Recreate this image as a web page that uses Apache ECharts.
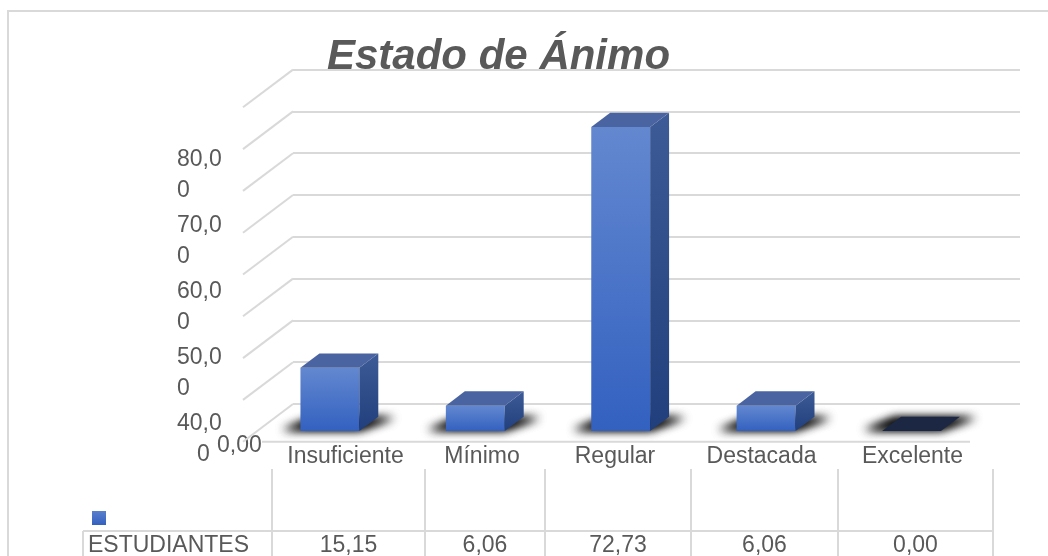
<!doctype html>
<html>
<head>
<meta charset="utf-8">
<title>Estado de Ánimo</title>
<script src="https://cdn.jsdelivr.net/npm/echarts@6/dist/echarts.min.js"></script>
<style>
    html, body { margin: 0; padding: 0; background: #fff; }
    #main { width: 1048px; height: 556px; }
</style>
</head>
<body>
<div id="main"></div>
<script>
// datos
var categorias = ['Insuficiente', 'Mínimo', 'Regular', 'Destacada', 'Excelente'];
var estudiantes = [15.15, 6.06, 72.73, 6.06, 0.00];
var serieNombre = 'ESTUDIANTES';
var lineasValor = [0, 10, 20, 30, 40, 50, 60, 70, 80];
// etiquetas del eje vertical tal como aparecen (partidas en dos renglones)
var etiquetasEje = [['80,0', '0'], ['70,0', '0'], ['60,0', '0'], ['50,0', '0'], ['40,0', '0']];
var etiquetaCero = '0,00';

// perspectiva del piso
var DX = 50, DY = 37.7;
var D_FRENTE = 0.716, D_FONDO = 0.337;
var gris = '#595959', linea = '#d9d9d9';
var fuente = '"Liberation Sans", Arial, sans-serif';
var columnas = [272, 425, 545, 691, 838, 993];

function fmt(v) { return v.toFixed(2).replace('.', ','); }

var myChart = echarts.init(document.getElementById('main'));

function texto(t, x, y, align) {
    return { type: 'text', silent: true,
        style: { text: t, x: x, y: y, fill: gris, font: '23px ' + fuente, align: align || 'left', verticalAlign: 'middle' } };
}

var graficos = [];
// marco del grafico
graficos.push({ type: 'rect', silent: true, z: -10,
    shape: { x: 8, y: 11, width: 1100, height: 600 },
    style: { fill: null, stroke: linea, lineWidth: 2 } });

// etiquetas del eje Y
etiquetasEje.forEach(function (par, k) {
    var y1 = 160 + 66 * k;
    graficos.push(texto(par[0], 177, y1));
    graficos.push(texto(par[1], k === etiquetasEje.length - 1 ? 197 : 177, y1 + 31));
});
graficos.push(texto(etiquetaCero, 217, 446));

// tabla de datos
columnas.forEach(function (x) {
    graficos.push({ type: 'line', silent: true, shape: { x1: x, y1: 469, x2: x, y2: 560 }, style: { stroke: linea, lineWidth: 2 } });
});
graficos.push({ type: 'line', silent: true, shape: { x1: 83, y1: 531, x2: columnas[columnas.length - 1], y2: 531 }, style: { stroke: linea, lineWidth: 2 } });
graficos.push({ type: 'line', silent: true, shape: { x1: 83, y1: 531, x2: 83, y2: 560 }, style: { stroke: linea, lineWidth: 2 } });
graficos.push({ type: 'rect', silent: true, shape: { x: 92, y: 511, width: 14, height: 14 },
    style: { fill: new echarts.graphic.LinearGradient(0, 0, 0, 1, [{ offset: 0, color: '#5a80cc' }, { offset: 1, color: '#3461c0' }]) } });
graficos.push(texto(serieNombre, 88, 546));
categorias.forEach(function (c, i) {
    var cx = (columnas[i] + columnas[i + 1]) / 2;
    graficos.push(texto(c, cx - 3, 457, 'center'));
    graficos.push(texto(fmt(estudiantes[i]), cx, 546, 'center'));
});

function renderParedes(params, api) {
    var cs = params.coordSys;
    var v = api.value(1);
    var y = api.coord([0, v])[1];
    var hijos = [{ type: 'line', shape: { x1: cs.x, y1: y, x2: cs.x - DX, y2: y + DY }, style: { stroke: linea, lineWidth: 2 } }];
    if (v === 0) {
        // borde delantero del piso (empieza despues de la etiqueta 0,00)
        hijos.push({ type: 'line', shape: { x1: cs.x - DX + 19, y1: y + DY, x2: cs.x + cs.width - DX, y2: y + DY }, style: { stroke: linea, lineWidth: 2 } });
    }
    return { type: 'group', children: hijos };
}

function renderBarra(params, api) {
    var i = api.value(0), v = api.value(1);
    var base = api.coord([i, 0]), tope = api.coord([i, v]);
    var w = api.size([1, 0])[0] * 0.405;
    var xl = base[0] - w / 2, xr = base[0] + w / 2;
    function p(x, y, d) { return [x - DX * d, y + DY * d]; }
    var fLT = p(xl, tope[1], D_FRENTE), fRT = p(xr, tope[1], D_FRENTE);
    var fRB = p(xr, base[1], D_FRENTE), fLB = p(xl, base[1], D_FRENTE);
    var bLT = p(xl, tope[1], D_FONDO), bRT = p(xr, tope[1], D_FONDO);
    var bRB = p(xr, base[1], D_FONDO), bLB = p(xl, base[1], D_FONDO);
    var off = 3000;
    var sombra = [[fLB[0] - 18 - off, fLB[1] - 1], [fRB[0] - off, fRB[1] - 1], [bRB[0] + 16 - off, bRB[1] + 1], [bLB[0] - 6 - off, bLB[1] + 1]];
    var hijos = [];
    for (var s = 0; s < 2; s++) {
        hijos.push({
            type: 'polygon', shape: { points: sombra },
            style: { fill: '#000', shadowBlur: 10, shadowColor: 'rgba(0,0,0,0.9)', shadowOffsetX: off }
        });
    }
    if (v > 0) {
        hijos.push({
            type: 'polygon', shape: { points: [fLT, fRT, fRB, fLB] },
            style: { fill: new echarts.graphic.LinearGradient(0, 0, 0, 1, [{ offset: 0, color: '#6388d0' }, { offset: 1, color: '#3361c0' }]) }
        });
        hijos.push({
            type: 'polygon', shape: { points: [fRT, bRT, bRB, fRB] },
            style: { fill: new echarts.graphic.LinearGradient(0, 0, 0, 1, [{ offset: 0, color: '#3d5b96' }, { offset: 1, color: '#213f7c' }]) }
        });
    }
    hijos.push({
        type: 'polygon', shape: { points: [fLT, fRT, bRT, bLT] },
        style: { fill: v > 0 ? '#4a64a1' : '#1b2743' }
    });
    return { type: 'group', children: hijos };
}

var option = {
    backgroundColor: '#fff',
    animation: false,
    title: {
        text: 'Estado de Ánimo',
        left: 327,
        top: 36,
        padding: 0,
        textStyle: { fontSize: 42, fontWeight: 'bold', fontStyle: 'italic', color: gris, fontFamily: fuente }
    },
    grid: { left: 293, right: 28, top: 69.6, bottom: 152 },
    xAxis: {
        type: 'category',
        data: categorias,
        axisLine: { show: false },
        axisTick: { show: false },
        axisLabel: { show: false }
    },
    yAxis: {
        type: 'value',
        min: 0,
        max: 80,
        interval: 10,
        axisLabel: { show: false },
        axisLine: { show: false },
        axisTick: { show: false },
        splitLine: { lineStyle: { color: linea, width: 2 } }
    },
    graphic: graficos,
    series: [{
        type: 'custom',
        silent: true,
        z: 1,
        renderItem: renderParedes,
        data: lineasValor.map(function (v) { return [0, v]; })
    }, {
        type: 'custom',
        name: serieNombre,
        silent: true,
        z: 3,
        renderItem: renderBarra,
        data: estudiantes.map(function (v, i) { return [i, v]; })
    }]
};
myChart.setOption(option);
</script>
</body>
</html>
